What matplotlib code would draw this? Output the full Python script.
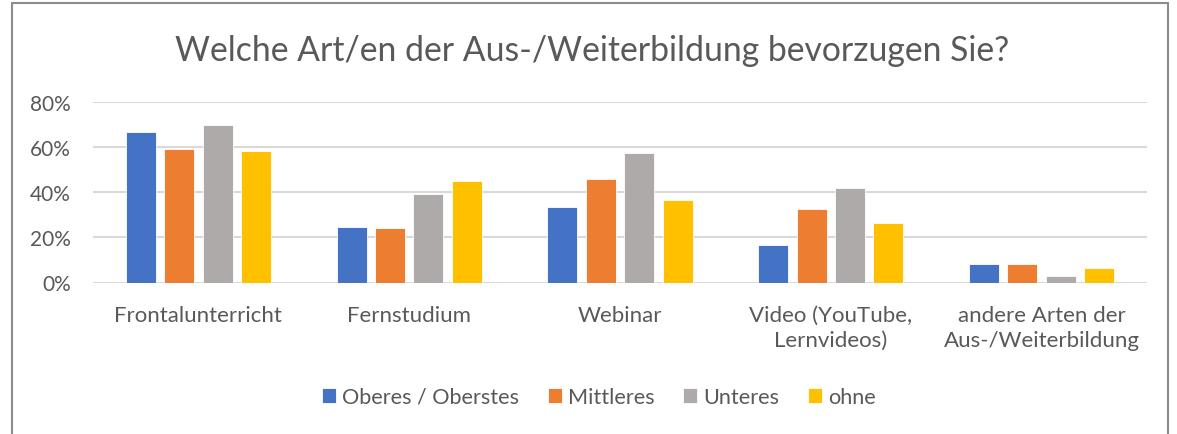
import matplotlib
matplotlib.use("Agg")
import matplotlib.pyplot as plt
import numpy as np
from matplotlib.patches import Rectangle

categories = ["Frontalunterricht", "Fernstudium", "Webinar",
              "Video (YouTube,\nLernvideos)", "andere Arten der\nAus-/Weiterbildung"]
series_names = ["Oberes / Oberstes", "Mittleres", "Unteres", "ohne"]
oberes = [0.665, 0.248, 0.333, 0.164, 0.081]
mittleres = [0.593, 0.241, 0.458, 0.324, 0.080]
unteres = [0.697, 0.392, 0.574, 0.421, 0.027]
ohne = [0.583, 0.448, 0.365, 0.264, 0.063]
yticks = [0, 0.2, 0.4, 0.6, 0.8]
ytick_labels = ["0%", "20%", "40%", "60%", "80%"]
title = "Welche Art/en der Aus-/Weiterbildung bevorzugen Sie?"

colors = ["#4472C4", "#ED7D31", "#AEAAAA", "#FFC000"]
text_color = "#595959"
font = ["Lato", "DejaVu Sans"]
plt.rcParams['font.family'] = font

W, H = 1177, 435
fig = plt.figure(figsize=(W / 100, H / 100), dpi=100)
fig.patch.set_facecolor("white")

# chart border
fig.patches.append(Rectangle((12 / W, -0.05), (1168 - 12) / W, 1.05 - 4 / H,
                             transform=fig.transFigure, fill=False,
                             edgecolor="#8C8C8C", linewidth=1.5))

ax = fig.add_axes([93 / W, 1 - 283.5 / H, (1147 - 93) / W, (283.5 - 103) / H])
x = np.arange(len(categories))
pitch = 0.182
width = 0.142
for j, (name, vals) in enumerate(zip(series_names, [oberes, mittleres, unteres, ohne])):
    ax.bar(x + (j - 1.5) * pitch, vals, width, color=colors[j], label=name,
           edgecolor="white", linewidth=0.6, zorder=3)

ax.set_xlim(-0.5, len(categories) - 0.5)
ax.set_ylim(0, 0.8)
ax.set_yticks(yticks)
ax.set_yticklabels(ytick_labels)
ax.set_xticks(x)
ax.set_xticklabels(categories, linespacing=1.34)
ax.grid(axis="y", color="#D9D9D9", linewidth=1.5, zorder=0)
ax.set_axisbelow(True)
for s in ax.spines.values():
    s.set_visible(False)
ax.tick_params(axis="both", length=0, colors=text_color)
ax.tick_params(axis="y", pad=16, labelsize=15)
ax.tick_params(axis="x", pad=16, labelsize=16)
ax.patch.set_alpha(0)

fig.text(592 / W, 1 - 61 / H, title, ha="center", va="baseline",
         fontsize=24.3, color=text_color)

leg = fig.legend(loc="center", bbox_to_anchor=(599 / W, 1 - 398 / H), ncol=4,
                 frameon=False, fontsize=15.6, handlelength=0.65, handleheight=0.65,
                 handletextpad=0.3, columnspacing=1.3, labelcolor=text_color)

fig.savefig("out.png", dpi=100, facecolor="white")
